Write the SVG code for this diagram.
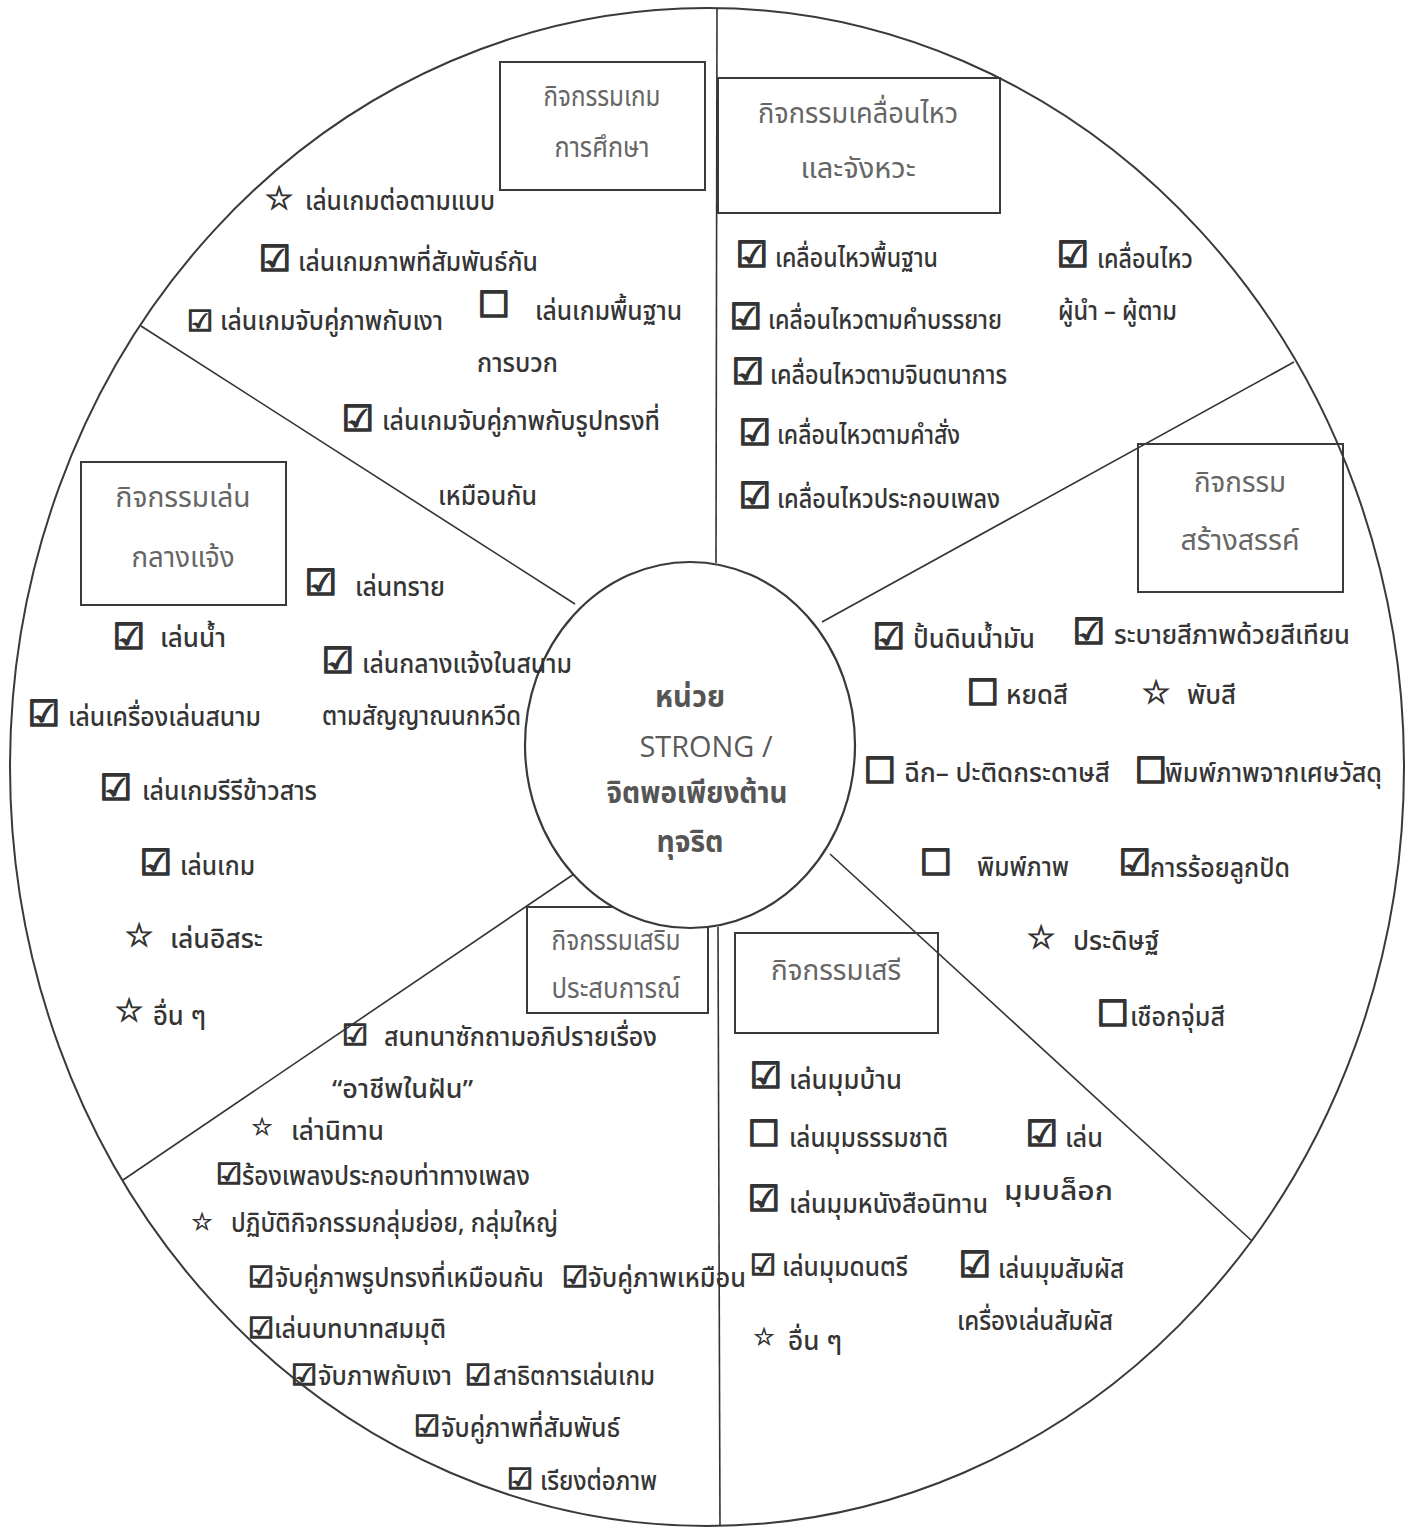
<svg xmlns="http://www.w3.org/2000/svg" width="1412" height="1530" viewBox="0 0 1412 1530">
<style>
.t{font-family:"Noto Sans Thai","Noto Sans Thai UI","Noto Sans","DejaVu Sans",sans-serif;font-size:26px;font-weight:500;fill:#353535}
.lb{font-family:"Noto Sans Thai","Noto Sans Thai UI","Noto Sans","DejaVu Sans",sans-serif;font-size:28px;fill:#666;text-anchor:middle}
.ct{font-family:"Noto Sans Thai","Noto Sans Thai UI","Noto Sans","DejaVu Sans",sans-serif;font-size:30px;fill:#555;font-weight:bold;text-anchor:middle}
.cl{font-family:"Open Sans","Noto Sans",sans-serif;font-size:30px;fill:#5a5a5a;text-anchor:middle}
.cb{font-family:"DejaVu Sans",sans-serif;font-size:36px;font-weight:bold;fill:#333;stroke:#333;stroke-width:1.6;text-anchor:middle}
.cbs{font-family:"DejaVu Sans",sans-serif;font-size:29px;font-weight:bold;fill:#333;stroke:#333;stroke-width:1.3;text-anchor:middle}
.st{font-family:"DejaVu Sans",sans-serif;font-size:32px;font-weight:bold;fill:#333;stroke:#333;stroke-width:1;text-anchor:middle}
.sts{font-family:"DejaVu Sans",sans-serif;font-size:24px;font-weight:bold;fill:#333;stroke:#333;stroke-width:0.7;text-anchor:middle}
.box{fill:none;stroke:#3a3a3a;stroke-width:2}
.ln{fill:none;stroke:#333;stroke-width:1.6}
</style>
<rect width="1412" height="1530" fill="#fff"/>
<g id="frame">
<ellipse cx="707" cy="767" rx="697" ry="759" fill="none" stroke="#3a3a3a" stroke-width="2"/>
</g>
<g id="connectors">
<path class="ln" d="M717 8 L716 563"/>
<path class="ln" d="M718 927 L720 1526"/>
<path class="ln" d="M141 326 L575 604"/>
<path class="ln" d="M1294 362 L822 622"/>
<path class="ln" d="M830 854 L1252 1241"/>
<path class="ln" d="M574 874 L123 1180"/>
</g>
<g id="box-education"><rect class="box" x="500" y="62" width="205" height="128"/>
<text class="lb" x="602" y="106" textLength="117" lengthAdjust="spacingAndGlyphs">กิจกรรมเกม</text>
<text class="lb" x="602" y="157" textLength="95" lengthAdjust="spacingAndGlyphs">การศึกษา</text></g>
<g id="box-movement"><rect class="box" x="718" y="78" width="282" height="135"/>
<text class="lb" x="858" y="123" textLength="200" lengthAdjust="spacingAndGlyphs">กิจกรรมเคลื่อนไหว</text>
<text class="lb" x="858" y="178" textLength="115" lengthAdjust="spacingAndGlyphs">และจังหวะ</text></g>
<g id="box-creative"><rect class="box" x="1138" y="444" width="205" height="148"/>
<text class="lb" x="1240" y="492" textLength="92" lengthAdjust="spacingAndGlyphs">กิจกรรม</text>
<text class="lb" x="1240" y="550" textLength="119" lengthAdjust="spacingAndGlyphs">สร้างสรรค์</text></g>
<g id="box-free"><rect class="box" x="735" y="933" width="203" height="100"/>
<text class="lb" x="836" y="980" textLength="130" lengthAdjust="spacingAndGlyphs">กิจกรรมเสรี</text></g>
<g id="box-outdoor"><rect class="box" x="81" y="462" width="205" height="143"/>
<text class="lb" x="183" y="507" textLength="135" lengthAdjust="spacingAndGlyphs">กิจกรรมเล่น</text>
<text class="lb" x="183" y="567" textLength="103" lengthAdjust="spacingAndGlyphs">กลางแจ้ง</text></g>
<g id="box-experience"><rect class="box" x="527" y="907" width="181" height="106"/>
<text class="lb" x="616" y="950" textLength="129" lengthAdjust="spacingAndGlyphs">กิจกรรมเสริม</text>
<text class="lb" x="616" y="998" textLength="129" lengthAdjust="spacingAndGlyphs">ประสบการณ์</text></g>
<g id="center">
<ellipse cx="690" cy="745" rx="165" ry="183" fill="#fff" stroke="#3a3a3a" stroke-width="2.2"/>
<text class="ct" x="690" y="707" textLength="70" lengthAdjust="spacingAndGlyphs">หน่วย</text>
<text class="cl" x="706" y="757" textLength="133" lengthAdjust="spacingAndGlyphs">STRONG /</text>
<text class="ct" x="697" y="803" textLength="181" lengthAdjust="spacingAndGlyphs">จิตพอเพียงต้าน</text>
<text class="ct" x="690" y="852" textLength="67" lengthAdjust="spacingAndGlyphs">ทุจริต</text>
</g>
<g id="items-education">
<text class="st" x="279" y="209">☆</text><text class="t" x="305" y="210" textLength="190" lengthAdjust="spacingAndGlyphs">เล่นเกมต่อตามแบบ</text>
<text class="cb" x="275" y="271">☑</text><text class="t" x="298" y="271" textLength="240" lengthAdjust="spacingAndGlyphs">เล่นเกมภาพที่สัมพันธ์กัน</text>
<text class="cbs" x="200" y="331">☑</text><text class="t" x="220" y="330" textLength="223" lengthAdjust="spacingAndGlyphs">เล่นเกมจับคู่ภาพกับเงา</text>
<text class="cb" x="494" y="317">☐</text><text class="t" x="535" y="320" textLength="147" lengthAdjust="spacingAndGlyphs">เล่นเกมพื้นฐาน</text>
<text class="t" x="477" y="372" textLength="81" lengthAdjust="spacingAndGlyphs">การบวก</text>
<text class="cb" x="358" y="431">☑</text><text class="t" x="382" y="430" textLength="278" lengthAdjust="spacingAndGlyphs">เล่นเกมจับคู่ภาพกับรูปทรงที่</text>
<text class="t" x="438" y="505" textLength="99" lengthAdjust="spacingAndGlyphs">เหมือนกัน</text>
</g>
<g id="items-movement">
<text class="cb" x="752" y="267">☑</text><text class="t" x="775" y="267" textLength="163" lengthAdjust="spacingAndGlyphs">เคลื่อนไหวพื้นฐาน</text>
<text class="cb" x="1073" y="267">☑</text><text class="t" x="1097" y="268" textLength="96" lengthAdjust="spacingAndGlyphs">เคลื่อนไหว</text>
<text class="t" x="1058" y="320" textLength="119" lengthAdjust="spacingAndGlyphs">ผู้นำ – ผู้ตาม</text>
<text class="cb" x="746" y="329">☑</text><text class="t" x="768" y="329" textLength="234" lengthAdjust="spacingAndGlyphs">เคลื่อนไหวตามคำบรรยาย</text>
<text class="cb" x="748" y="384">☑</text><text class="t" x="770" y="384" textLength="237" lengthAdjust="spacingAndGlyphs">เคลื่อนไหวตามจินตนาการ</text>
<text class="cb" x="755" y="445">☑</text><text class="t" x="777" y="444" textLength="183" lengthAdjust="spacingAndGlyphs">เคลื่อนไหวตามคำสั่ง</text>
<text class="cb" x="755" y="508">☑</text><text class="t" x="777" y="508" textLength="223" lengthAdjust="spacingAndGlyphs">เคลื่อนไหวประกอบเพลง</text>
</g>
<g id="items-creative">
<text class="cb" x="889" y="649">☑</text><text class="t" x="913" y="648" textLength="122" lengthAdjust="spacingAndGlyphs">ปั้นดินน้ำมัน</text>
<text class="cb" x="1089" y="644">☑</text><text class="t" x="1114" y="644" textLength="236" lengthAdjust="spacingAndGlyphs">ระบายสีภาพด้วยสีเทียน</text>
<text class="cb" x="983" y="705">☐</text><text class="t" x="1006" y="704" textLength="62" lengthAdjust="spacingAndGlyphs">หยดสี</text>
<text class="st" x="1156" y="703">☆</text><text class="t" x="1187" y="704" textLength="49" lengthAdjust="spacingAndGlyphs">พับสี</text>
<text class="cb" x="880" y="783">☐</text><text class="t" x="904" y="782" textLength="206" lengthAdjust="spacingAndGlyphs">ฉีก– ปะติดกระดาษสี</text>
<text class="cb" x="1151" y="783">☐</text><text class="t" x="1165" y="782" textLength="217" lengthAdjust="spacingAndGlyphs">พิมพ์ภาพจากเศษวัสดุ</text>
<text class="cb" x="936" y="875">☐</text><text class="t" x="977" y="876" textLength="92" lengthAdjust="spacingAndGlyphs">พิมพ์ภาพ</text>
<text class="cb" x="1135" y="875">☑</text><text class="t" x="1150" y="877" textLength="140" lengthAdjust="spacingAndGlyphs">การร้อยลูกปัด</text>
<text class="st" x="1041" y="948">☆</text><text class="t" x="1073" y="950" textLength="86" lengthAdjust="spacingAndGlyphs">ประดิษฐ์</text>
<text class="cb" x="1113" y="1026">☐</text><text class="t" x="1130" y="1026" textLength="95" lengthAdjust="spacingAndGlyphs">เชือกจุ่มสี</text>
</g>
<g id="items-free">
<text class="cb" x="766" y="1088">☑</text><text class="t" x="789" y="1089" textLength="113" lengthAdjust="spacingAndGlyphs">เล่นมุมบ้าน</text>
<text class="cb" x="764" y="1146">☐</text><text class="t" x="789" y="1147" textLength="159" lengthAdjust="spacingAndGlyphs">เล่นมุมธรรมชาติ</text>
<text class="cb" x="1042" y="1146">☑</text><text class="t" x="1065" y="1147" textLength="38" lengthAdjust="spacingAndGlyphs">เล่น</text>
<text class="t" x="1004" y="1200" textLength="109" lengthAdjust="spacingAndGlyphs">มุมบล็อก</text>
<text class="cb" x="764" y="1211">☑</text><text class="t" x="789" y="1213" textLength="199" lengthAdjust="spacingAndGlyphs">เล่นมุมหนังสือนิทาน</text>
<text class="cbs" x="763" y="1275">☑</text><text class="t" x="782" y="1276" textLength="126" lengthAdjust="spacingAndGlyphs">เล่นมุมดนตรี</text>
<text class="cb" x="975" y="1277">☑</text><text class="t" x="998" y="1278" textLength="126" lengthAdjust="spacingAndGlyphs">เล่นมุมสัมผัส</text>
<text class="t" x="957" y="1330" textLength="156" lengthAdjust="spacingAndGlyphs">เครื่องเล่นสัมผัส</text>
<text class="sts" x="764" y="1345">☆</text><text class="t" x="788" y="1350" textLength="54" lengthAdjust="spacingAndGlyphs">อื่น ๆ</text>
</g>
<g id="items-outdoor">
<text class="cb" x="321" y="595">☑</text><text class="t" x="355" y="596" textLength="90" lengthAdjust="spacingAndGlyphs">เล่นทราย</text>
<text class="cb" x="129" y="649">☑</text><text class="t" x="160" y="647" textLength="66" lengthAdjust="spacingAndGlyphs">เล่นน้ำ</text>
<text class="cb" x="338" y="673">☑</text><text class="t" x="362" y="673" textLength="210" lengthAdjust="spacingAndGlyphs">เล่นกลางแจ้งในสนาม</text>
<text class="cb" x="44" y="726">☑</text><text class="t" x="68" y="726" textLength="193" lengthAdjust="spacingAndGlyphs">เล่นเครื่องเล่นสนาม</text>
<text class="t" x="322" y="725" textLength="199" lengthAdjust="spacingAndGlyphs">ตามสัญญาณนกหวีด</text>
<text class="cb" x="116" y="800">☑</text><text class="t" x="142" y="800" textLength="175" lengthAdjust="spacingAndGlyphs">เล่นเกมรีรีข้าวสาร</text>
<text class="cb" x="156" y="875">☑</text><text class="t" x="180" y="875" textLength="75" lengthAdjust="spacingAndGlyphs">เล่นเกม</text>
<text class="st" x="139" y="946">☆</text><text class="t" x="170" y="948" textLength="93" lengthAdjust="spacingAndGlyphs">เล่นอิสระ</text>
<text class="st" x="129" y="1021">☆</text><text class="t" x="153" y="1025" textLength="53" lengthAdjust="spacingAndGlyphs">อื่น ๆ</text>
</g>
<g id="items-experience">
<text class="cbs" x="355" y="1045">☑</text><text class="t" x="384" y="1046" textLength="273" lengthAdjust="spacingAndGlyphs">สนทนาซักถามอภิปรายเรื่อง</text>
<text class="t" x="332" y="1098" textLength="141" lengthAdjust="spacingAndGlyphs">“อาชีพในฝัน”</text>
<text class="sts" x="262" y="1135">☆</text><text class="t" x="291" y="1140" textLength="93" lengthAdjust="spacingAndGlyphs">เล่านิทาน</text>
<text class="cbs" x="229" y="1184">☑</text><text class="t" x="242" y="1185" textLength="288" lengthAdjust="spacingAndGlyphs">ร้องเพลงประกอบท่าทางเพลง</text>
<text class="sts" x="202" y="1230">☆</text><text class="t" x="231" y="1232" textLength="327" lengthAdjust="spacingAndGlyphs">ปฏิบัติกิจกรรมกลุ่มย่อย, กลุ่มใหญ่</text>
<text class="cbs" x="261" y="1287">☑</text><text class="t" x="275" y="1287" textLength="269" lengthAdjust="spacingAndGlyphs">จับคู่ภาพรูปทรงที่เหมือนกัน</text>
<text class="cbs" x="575" y="1287">☑</text><text class="t" x="588" y="1287" textLength="158" lengthAdjust="spacingAndGlyphs">จับคู่ภาพเหมือน</text>
<text class="cbs" x="261" y="1338">☑</text><text class="t" x="274" y="1338" textLength="172" lengthAdjust="spacingAndGlyphs">เล่นบทบาทสมมุติ</text>
<text class="cbs" x="304" y="1385">☑</text><text class="t" x="318" y="1385" textLength="134" lengthAdjust="spacingAndGlyphs">จับภาพกับเงา</text>
<text class="cbs" x="478" y="1385">☑</text><text class="t" x="493" y="1385" textLength="162" lengthAdjust="spacingAndGlyphs">สาธิตการเล่นเกม</text>
<text class="cbs" x="427" y="1436">☑</text><text class="t" x="441" y="1437" textLength="179" lengthAdjust="spacingAndGlyphs">จับคู่ภาพที่สัมพันธ์</text>
<text class="cbs" x="520" y="1489">☑</text><text class="t" x="540" y="1490" textLength="117" lengthAdjust="spacingAndGlyphs">เรียงต่อภาพ</text>
</g>
</svg>
